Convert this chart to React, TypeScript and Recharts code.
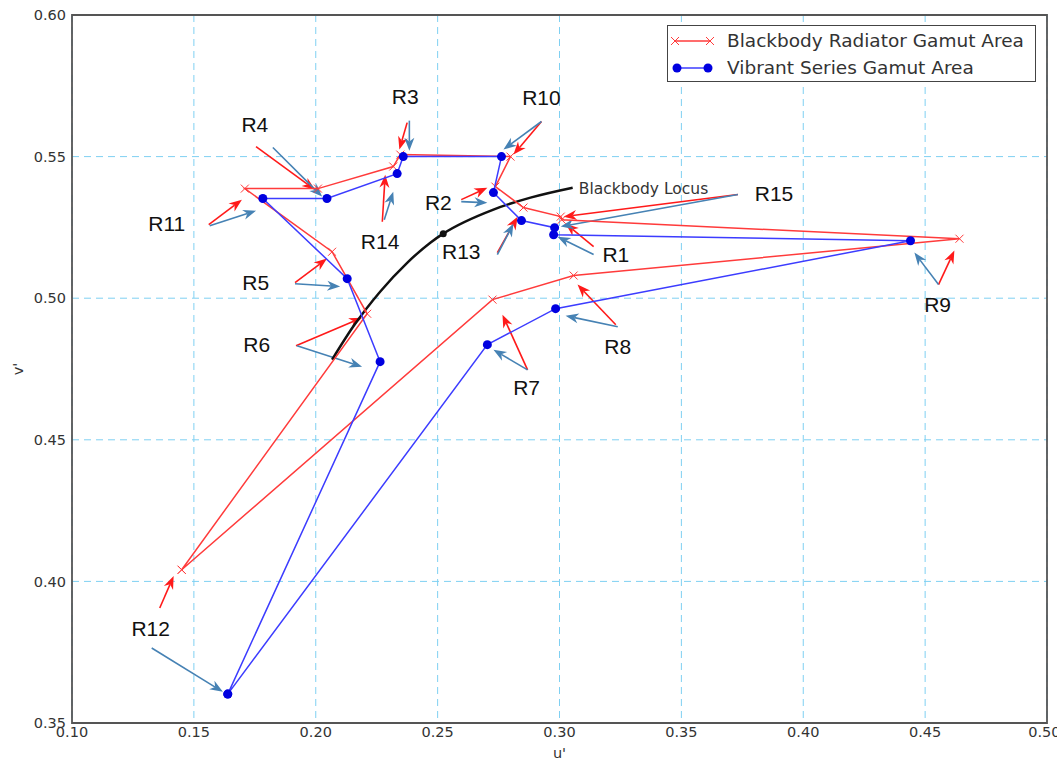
import {
  ScatterChart,
  Scatter,
  XAxis,
  YAxis,
  CartesianGrid,
  ReferenceLine,
  ReferenceDot,
  ReferenceArea,
  Legend,
} from 'recharts';

// order in which the gamut outlines visit the samples
const sampleNames = ['R12', 'R6', 'R5', 'R11', 'R4', 'R14', 'R3', 'R10', 'R2', 'R13', 'R15', 'R1', 'R9', 'R8', 'R7'];

// Blackbody radiator (u', v')
const radiatorU = [0.1450, 0.2211, 0.2067, 0.1709, 0.2009, 0.2318, 0.2347, 0.2799, 0.2737, 0.2852, 0.3005, 0.3009, 0.4641, 0.3058, 0.2725];
const radiatorV = [0.4041, 0.4945, 0.5164, 0.5387, 0.5387, 0.5465, 0.5507, 0.5500, 0.5394, 0.5320, 0.5288, 0.5277, 0.5210, 0.5080, 0.4995];

// Vibrant series (u', v')
const vibrantU = [0.1639, 0.2264, 0.2129, 0.1783, 0.2046, 0.2334, 0.2359, 0.2762, 0.2729, 0.2844, 0.2980, 0.2976, 0.4440, 0.2984, 0.2704];
const vibrantV = [0.3602, 0.4776, 0.5069, 0.5352, 0.5352, 0.5440, 0.5500, 0.5500, 0.5373, 0.5274, 0.5249, 0.5224, 0.5203, 0.4963, 0.4836];

// Planckian locus section
const locusU = [0.2067, 0.2153, 0.2264, 0.2375, 0.2470, 0.2523, 0.2729, 0.2881, 0.3054];
const locusV = [0.4783, 0.4899, 0.5023, 0.5125, 0.5196, 0.5228, 0.5313, 0.5355, 0.5390];
const locusMark = { u: 0.2523, v: 0.5228 };
const locusTitle = { u: 0.3079, v: 0.5387, text: 'Blackbody Locus' };

const uTicks = [0.1, 0.15, 0.2, 0.25, 0.3, 0.35, 0.4, 0.45, 0.5];
const vTicks = [0.35, 0.4, 0.45, 0.5, 0.55, 0.6];

// annotation labels and their arrows: [tailU, tailV, headU, headV]
const noteNames = ['R1', 'R2', 'R3', 'R4', 'R5', 'R6', 'R7', 'R8', 'R9', 'R10', 'R11', 'R12', 'R13', 'R14', 'R15'];
const noteU = [0.3231, 0.2503, 0.2367, 0.1750, 0.1754, 0.1758, 0.2865, 0.3239, 0.4551, 0.2926, 0.1389, 0.1323, 0.2597, 0.2264, 0.3880];
const noteV = [0.5154, 0.5337, 0.5712, 0.5613, 0.5055, 0.4836, 0.4684, 0.4829, 0.4977, 0.5708, 0.5263, 0.3832, 0.5164, 0.5200, 0.5369];
const redArrows = [
  [0.3140, 0.5182, 0.3025, 0.5263],
  [0.2597, 0.5348, 0.2704, 0.5390],
  [0.2375, 0.5620, 0.2343, 0.5525],
  [0.1755, 0.5535, 0.1997, 0.5383],
  [0.1915, 0.5055, 0.2046, 0.5140],
  [0.1919, 0.4832, 0.2190, 0.4931],
  [0.2869, 0.4747, 0.2766, 0.4942],
  [0.3231, 0.4906, 0.3074, 0.5048],
  [0.4555, 0.5048, 0.4620, 0.5168],
  [0.2926, 0.5624, 0.2811, 0.5507],
  [0.1561, 0.5260, 0.1697, 0.5348],
  [0.1360, 0.3906, 0.1417, 0.4019],
  [0.2745, 0.5161, 0.2828, 0.5288],
  [0.2273, 0.5270, 0.2285, 0.5436],
  [0.3732, 0.5366, 0.3017, 0.5288],
];
const blueArrows = [
  [0.3140, 0.5154, 0.2992, 0.5217],
  [0.2597, 0.5341, 0.2704, 0.5337],
  [0.2384, 0.5627, 0.2384, 0.5521],
  [0.1824, 0.5532, 0.2026, 0.5359],
  [0.1915, 0.5051, 0.2100, 0.5041],
  [0.1923, 0.4832, 0.2190, 0.4758],
  [0.2869, 0.4747, 0.2729, 0.4818],
  [0.3239, 0.4899, 0.3025, 0.4938],
  [0.4555, 0.5048, 0.4456, 0.5161],
  [0.2926, 0.5624, 0.2770, 0.5525],
  [0.1565, 0.5256, 0.1755, 0.5309],
  [0.1327, 0.3765, 0.1619, 0.3610],
  [0.2745, 0.5154, 0.2811, 0.5263],
  [0.2281, 0.5277, 0.2318, 0.5376],
  [0.3732, 0.5366, 0.3005, 0.5253],
];

const RED = '#ff3b3b';
const BLUE = '#3c3cff';
const DOT = '#0000e0';
const ARROW_RED = '#ff1a1a';
const ARROW_BLUE = '#4682b4';
const GRID = '#7fd0f2';

const toPoints = (us: number[], vs: number[]) =>
  us.map((u, i) => ({ u, v: vs[i], name: sampleNames[i] }));
const closed = <T,>(pts: T[]) => [...pts, pts[0]];

const radiatorData = closed(toPoints(radiatorU, radiatorV));
const vibrantData = closed(toPoints(vibrantU, vibrantV));
const locusData = locusU.map((u, i) => ({ u, v: locusV[i] }));

const Cross = ({ cx, cy }: any) => (
  <path
    d={`M${cx - 4},${cy - 4}L${cx + 4},${cy + 4}M${cx - 4},${cy + 4}L${cx + 4},${cy - 4}`}
    stroke={RED}
    strokeWidth={1}
    fill="none"
  />
);

const Dot = ({ cx, cy }: any) => <circle cx={cx} cy={cy} r={4.5} fill={DOT} />;

const arrowShape = (color: string) => (p: any) => {
  const { x1, y1, x2, y2 } = p;
  const a = Math.atan2(y2 - y1, x2 - x1);
  const len = 13;
  const half = 5;
  const bx = x2 - len * Math.cos(a);
  const by = y2 - len * Math.sin(a);
  const nx = x2 - len * 0.7 * Math.cos(a);
  const ny = y2 - len * 0.7 * Math.sin(a);
  const px = -Math.sin(a) * half;
  const py = Math.cos(a) * half;
  return (
    <g>
      <line x1={x1} y1={y1} x2={nx} y2={ny} stroke={color} strokeWidth={1.6} />
      <polygon
        points={`${x2},${y2} ${bx + px},${by + py} ${nx},${ny} ${bx - px},${by - py}`}
        fill={color}
      />
    </g>
  );
};

const LegendBox = () => (
  <div
    style={{
      width: 367,
      height: 55,
      border: '1px solid #444',
      background: '#fff',
      fontFamily: 'DejaVu Sans',
      fontSize: 18.5,
      color: '#333',
      lineHeight: '27px',
    }}
  >
    <div style={{ display: 'flex', alignItems: 'center', height: 27, marginTop: 1 }}>
      <svg width={59} height={14}>
        <line x1={7} y1={7} x2={42} y2={7} stroke={RED} strokeWidth={1.5} />
        <Cross cx={7} cy={7} />
        <Cross cx={42} cy={7} />
      </svg>
      <span style={{ whiteSpace: 'nowrap' }}>Blackbody Radiator Gamut Area</span>
    </div>
    <div style={{ display: 'flex', alignItems: 'center', height: 27 }}>
      <svg width={59} height={14}>
        <line x1={9} y1={7} x2={40} y2={7} stroke={BLUE} strokeWidth={1.5} />
        <Dot cx={9} cy={7} />
        <Dot cx={40} cy={7} />
      </svg>
      <span style={{ whiteSpace: 'nowrap' }}>Vibrant Series Gamut Area</span>
    </div>
  </div>
);

const tickStyle = { fill: '#333', fontSize: 14.5, fontFamily: 'DejaVu Sans' };

export default function App() {
  return (
    <div style={{ position: 'absolute', left: 0, top: 0, background: '#fff' }}>
      <ScatterChart
        width={1057}
        height={783}
        margin={{ top: 15, right: 10, bottom: 15, left: 12 }}
        style={{ fontFamily: 'DejaVu Sans' }}
      >
        <CartesianGrid stroke={GRID} strokeDasharray="7 5" strokeWidth={1} />
        <XAxis
          type="number"
          dataKey="u"
          domain={[0.1, 0.5]}
          ticks={uTicks}
          tickFormatter={(t: number) => t.toFixed(2)}
          tick={tickStyle}
          tickLine={false}
          axisLine={false}
          tickSize={4}
          tickMargin={0}
          height={45}
          allowDataOverflow
          label={{ value: "u'", position: 'insideBottom', offset: 10, fill: '#333', fontSize: 14.5 }}
        />
        <YAxis
          type="number"
          dataKey="v"
          domain={[0.35, 0.6]}
          ticks={vTicks}
          tickFormatter={(t: number) => t.toFixed(2)}
          tick={tickStyle}
          tickLine={false}
          axisLine={false}
          tickSize={4}
          tickMargin={2}
          width={60}
          allowDataOverflow
          label={{
            value: "v'",
            angle: -90,
            position: 'insideLeft',
            offset: 6,
            fill: '#333',
            fontSize: 14.5,
            style: { textAnchor: 'middle' },
          }}
        />
        <ReferenceArea
          x1={0.1}
          x2={0.5}
          y1={0.35}
          y2={0.6}
          fill="none"
          fillOpacity={0}
          stroke="#555"
          strokeWidth={1.8}
          ifOverflow="visible"
        />
        <Scatter
          name="Blackbody Locus"
          data={locusData}
          line={{ stroke: '#111', strokeWidth: 2.5 }}
          lineJointType="monotoneX"
          shape={() => <g />}
          legendType="none"
          isAnimationActive={false}
        />
        <Scatter
          name="Locus point"
          data={[locusMark]}
          shape={(p: any) => <circle cx={p.cx} cy={p.cy} r={3.5} fill="#111" />}
          legendType="none"
          isAnimationActive={false}
        />
        <Scatter
          name="Blackbody Radiator Gamut Area"
          data={radiatorData}
          line={{ stroke: RED, strokeWidth: 1.5 }}
          shape={Cross}
          isAnimationActive={false}
        />
        <Scatter
          name="Vibrant Series Gamut Area"
          data={vibrantData}
          line={{ stroke: BLUE, strokeWidth: 1.5 }}
          shape={Dot}
          isAnimationActive={false}
        />
        {redArrows.map((a, i) => (
          <ReferenceLine
            key={`ra-${i}`}
            segment={[{ x: a[0], y: a[1] }, { x: a[2], y: a[3] }]}
            ifOverflow="visible"
            shape={arrowShape(ARROW_RED)}
          />
        ))}
        {blueArrows.map((a, i) => (
          <ReferenceLine
            key={`ba-${i}`}
            segment={[{ x: a[0], y: a[1] }, { x: a[2], y: a[3] }]}
            ifOverflow="visible"
            shape={arrowShape(ARROW_BLUE)}
          />
        ))}
        {noteNames.map((n, i) => (
          <ReferenceDot
            key={n}
            x={noteU[i]}
            y={noteV[i]}
            ifOverflow="visible"
            shape={(p: any) => (
              <text
                x={p.cx}
                y={p.cy}
                textAnchor="middle"
                dominantBaseline="central"
                fontFamily="Liberation Sans"
                fontSize={21}
                fill="#111"
              >
                {n}
              </text>
            )}
          />
        ))}
        <ReferenceDot
          x={locusTitle.u}
          y={locusTitle.v}
          ifOverflow="visible"
          shape={(p: any) => (
            <text
              x={p.cx}
              y={p.cy}
              dominantBaseline="central"
              fontFamily="DejaVu Sans"
              fontSize={15.5}
              fill="#333"
            >
              {locusTitle.text}
            </text>
          )}
        />
        <Legend
          layout="vertical"
          align="center"
          verticalAlign="middle"
          wrapperStyle={{ left: 667, top: 25, width: 'auto' }}
          content={() => <LegendBox />}
        />
      </ScatterChart>
    </div>
  );
}
